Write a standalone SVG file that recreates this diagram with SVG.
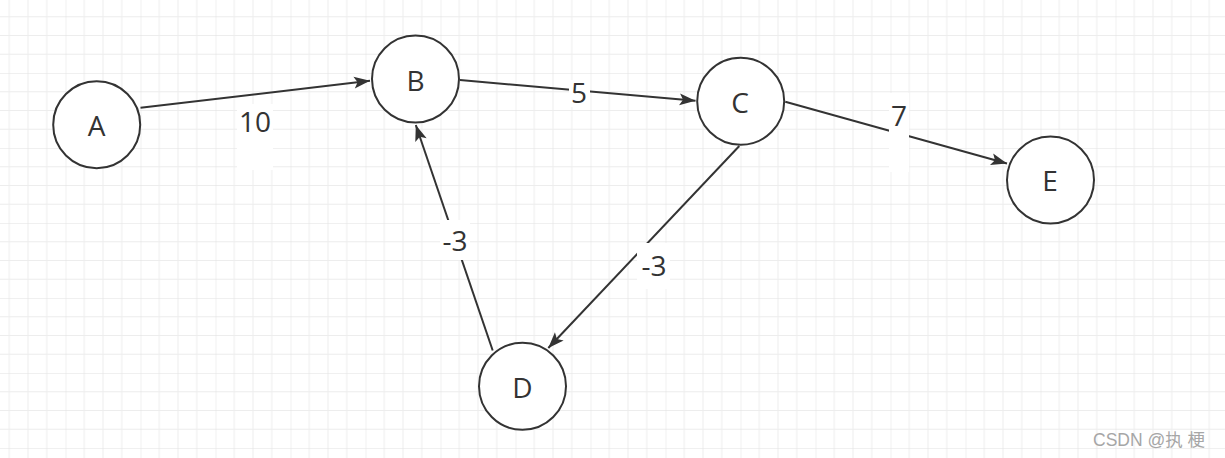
<svg xmlns="http://www.w3.org/2000/svg" width="1225" height="458" viewBox="0 0 1225 458">
<defs>
<pattern id="grid" x="65.5" y="73" width="75" height="75" patternUnits="userSpaceOnUse">
<rect width="75" height="75" fill="#ffffff"/>
<g stroke="#ededed" stroke-width="1">
<line x1="18.75" y1="0" x2="18.75" y2="75"/>
<line x1="37.5" y1="0" x2="37.5" y2="75"/>
<line x1="56.25" y1="0" x2="56.25" y2="75"/>
<line x1="0" y1="18.75" x2="75" y2="18.75"/>
<line x1="0" y1="37.5" x2="75" y2="37.5"/>
<line x1="0" y1="56.25" x2="75" y2="56.25"/>
</g>
<g stroke="#e2e2e2" stroke-width="1">
<line x1="0" y1="0" x2="0" y2="75"/>
<line x1="0" y1="0" x2="75" y2="0"/>
</g>
</pattern>
<marker id="arrow" markerUnits="userSpaceOnUse" markerWidth="20" markerHeight="16" viewBox="-18 -8 19 16" refX="0" refY="0" orient="auto">
<path d="M0,0 L-16,-6 L-12.5,0 L-16,6 Z" fill="#333333"/>
</marker>
<style>
.node circle { fill: #ffffff; stroke: #333333; stroke-width: 2; }
.node text, .lbl text { font-family: "Open Sans", "Noto Sans", sans-serif; font-size: 28px; fill: #333333; text-anchor: middle; }
.edge { fill: none; stroke: #333333; stroke-width: 2; marker-end: url(#arrow); }
.lbl rect { fill: #ffffff; }
.wm { font-family: "Liberation Sans", "Noto Sans CJK SC", sans-serif; font-size: 17.5px; fill: #a6a6a6; }
</style>
</defs>
<rect width="1225" height="458" fill="url(#grid)"/>
<g id="connectors">
<line class="edge" x1="140.5" y1="107.7" x2="370" y2="80.8"/>
<line class="edge" x1="460" y1="80" x2="695.5" y2="100.8"/>
<line class="edge" x1="785.3" y1="101.7" x2="1007" y2="163.5"/>
<line class="edge" x1="739.3" y1="146" x2="548.3" y2="348"/>
<line class="edge" x1="492.7" y1="350.5" x2="415.8" y2="125"/>
<g class="lbl" id="label-ab"><rect x="237" y="104" width="36" height="66"/><text x="255" y="132">10</text></g>
<g class="lbl" id="label-bc"><rect x="569" y="80" width="21" height="27"/><text x="579" y="103">5</text></g>
<g class="lbl" id="label-ce"><rect x="889" y="93" width="20" height="79"/><text x="899" y="126">7</text></g>
<g class="lbl" id="label-cd"><rect x="637" y="243" width="33" height="46"/><text x="654" y="276">-3</text></g>
<g class="lbl" id="label-db"><rect x="440" y="220" width="30" height="40"/><text x="455" y="251">-3</text></g>
</g>
<g id="node-A" class="node"><circle cx="96.7" cy="124.7" r="43.5"/><text x="96.7" y="136">A</text></g>
<g id="node-B" class="node"><circle cx="415.5" cy="79" r="43.5"/><text x="415.5" y="91">B</text></g>
<g id="node-C" class="node"><circle cx="740.7" cy="101.3" r="43.5"/><text x="740" y="113">C</text></g>
<g id="node-D" class="node"><circle cx="522.5" cy="386.3" r="43.5"/><text x="522.5" y="397.5">D</text></g>
<g id="node-E" class="node"><circle cx="1050.5" cy="180" r="43.5"/><text x="1050" y="191">E</text></g>
<text class="wm" x="1093" y="446">CSDN @执 梗</text>
</svg>
